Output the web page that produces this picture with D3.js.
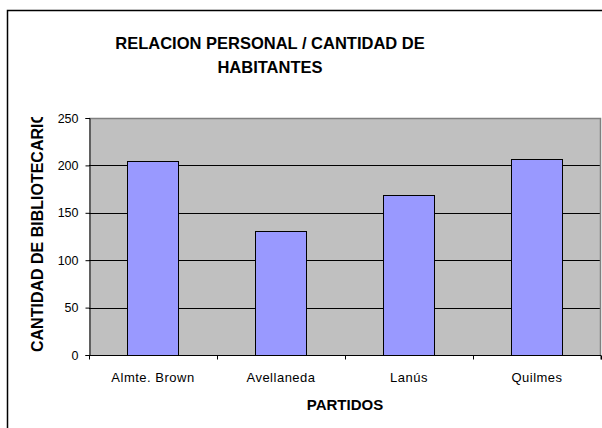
<!DOCTYPE html>
<html>
<head>
<meta charset="utf-8">
<script src="https://cdn.jsdelivr.net/npm/d3@7"></script>
<style>
  body { margin: 0; background: #fff; }
  text { font-family: "Liberation Sans", Arial, sans-serif; fill: #000; }
</style>
</head>
<body>
<div id="chart"></div>
<script>
// chart data
const partidos = ["Almte. Brown", "Avellaneda", "Lanús", "Quilmes"];
const bibliotecarios = [205, 131, 169, 207];
const yTicks = [0, 50, 100, 150, 200, 250];
const titleLines = ["RELACION PERSONAL / CANTIDAD DE", "HABITANTES"];
const xTitle = "PARTIDOS";
const yTitle = "CANTIDAD DE BIBLIOTECARIOS";

const w = 602;
const h = 428;
const plot = { left: 89, right: 601, top: 118, bottom: 355 };

const svg = d3.select("#chart")
  .append("svg")
  .attr("width", w)
  .attr("height", h);

// outer frame (runs off the right and bottom edges)
svg.append("rect")
  .attr("x", 7.5)
  .attr("y", 10.5)
  .attr("width", 700)
  .attr("height", 500)
  .attr("fill", "#fff")
  .attr("stroke", "#000")
  .attr("stroke-width", 1.5);

// title
svg.append("g")
  .selectAll("text")
  .data(titleLines)
  .enter()
  .append("text")
  .attr("x", 270)
  .attr("y", (d, i) => 49 + i * 24)
  .attr("text-anchor", "middle")
  .attr("font-size", 16.5)
  .attr("font-weight", "bold")
  .text(d => d);

const x = d3.scaleBand()
  .domain(partidos)
  .range([plot.left, plot.right])
  .paddingInner(0.6)
  .paddingOuter(0.3);

const xBound = d3.scaleLinear()
  .domain([0, partidos.length])
  .range([plot.left, plot.right]);

const y = d3.scaleLinear()
  .domain([0, 250])
  .range([plot.bottom, plot.top]);

// plot area background
svg.append("rect")
  .attr("x", plot.left)
  .attr("y", plot.top)
  .attr("width", plot.right - plot.left)
  .attr("height", plot.bottom - plot.top)
  .attr("fill", "#c0c0c0");

// gridlines
svg.append("g")
  .selectAll("line")
  .data(yTicks.filter(t => t > 0 && t < 250))
  .enter()
  .append("line")
  .attr("x1", plot.left)
  .attr("x2", plot.right)
  .attr("y1", d => Math.round(y(d)) + 0.5)
  .attr("y2", d => Math.round(y(d)) + 0.5)
  .attr("stroke", "#000");

// gray top and right border of the plot area
svg.append("path")
  .attr("d", `M${plot.left},${plot.top + 0.5}H${plot.right - 0.5}V${plot.bottom}`)
  .attr("fill", "none")
  .attr("stroke", "#808080")
  .attr("stroke-width", 1.5);

// bars
svg.selectAll(".bar")
  .data(bibliotecarios)
  .enter()
  .append("rect")
  .attr("class", "bar")
  .attr("x", (d, i) => Math.round(x(partidos[i])) + 0.5)
  .attr("y", d => Math.round(y(d)) + 0.5)
  .attr("width", Math.round(x.bandwidth()))
  .attr("height", d => Math.round(plot.bottom - y(d)))
  .attr("fill", "#9999ff")
  .attr("stroke", "#000")
  .attr("stroke-width", 1);

// y axis
const yAxis = d3.axisLeft(y).tickValues(yTicks).tickSize(4).tickPadding(7);
const yG = svg.append("g")
  .attr("transform", `translate(${plot.left + 0.5},0)`)
  .call(yAxis);
yG.select(".domain").attr("stroke", "#000");
yG.selectAll("text").attr("font-size", 12.5).style("font-family", "Liberation Sans, Arial, sans-serif");

// x axis: ticks at category boundaries, labels centered in each category
const xAxis = d3.axisBottom(xBound).ticks(partidos.length).tickSize(4).tickFormat("");
const xG = svg.append("g")
  .attr("transform", `translate(0,${plot.bottom + 0.5})`)
  .call(xAxis);
xG.select(".domain").attr("d", `M${plot.left},0.5V0H${plot.right}V4`);

svg.append("g")
  .selectAll("text")
  .data(partidos)
  .enter()
  .append("text")
  .attr("x", d => x(d) + x.bandwidth() / 2)
  .attr("y", 382)
  .attr("text-anchor", "middle")
  .attr("font-size", 13)
  .style("letter-spacing", "0.5px")
  .text(d => d);

// axis titles
svg.append("text")
  .attr("x", (plot.left + plot.right) / 2)
  .attr("y", 410)
  .attr("text-anchor", "middle")
  .attr("font-size", 15)
  .attr("font-weight", "bold")
  .text(xTitle);

svg.append("clipPath")
  .attr("id", "ytitle-clip")
  .append("rect")
  .attr("x", 0)
  .attr("y", 117)
  .attr("width", 80)
  .attr("height", 300);

svg.append("g")
  .attr("clip-path", "url(#ytitle-clip)")
  .append("text")
  .attr("transform", "translate(43,352) rotate(-90)")
  .attr("text-anchor", "start")
  .attr("font-size", 16)
  .attr("font-weight", "bold")
  .text(yTitle);
</script>
</body>
</html>
